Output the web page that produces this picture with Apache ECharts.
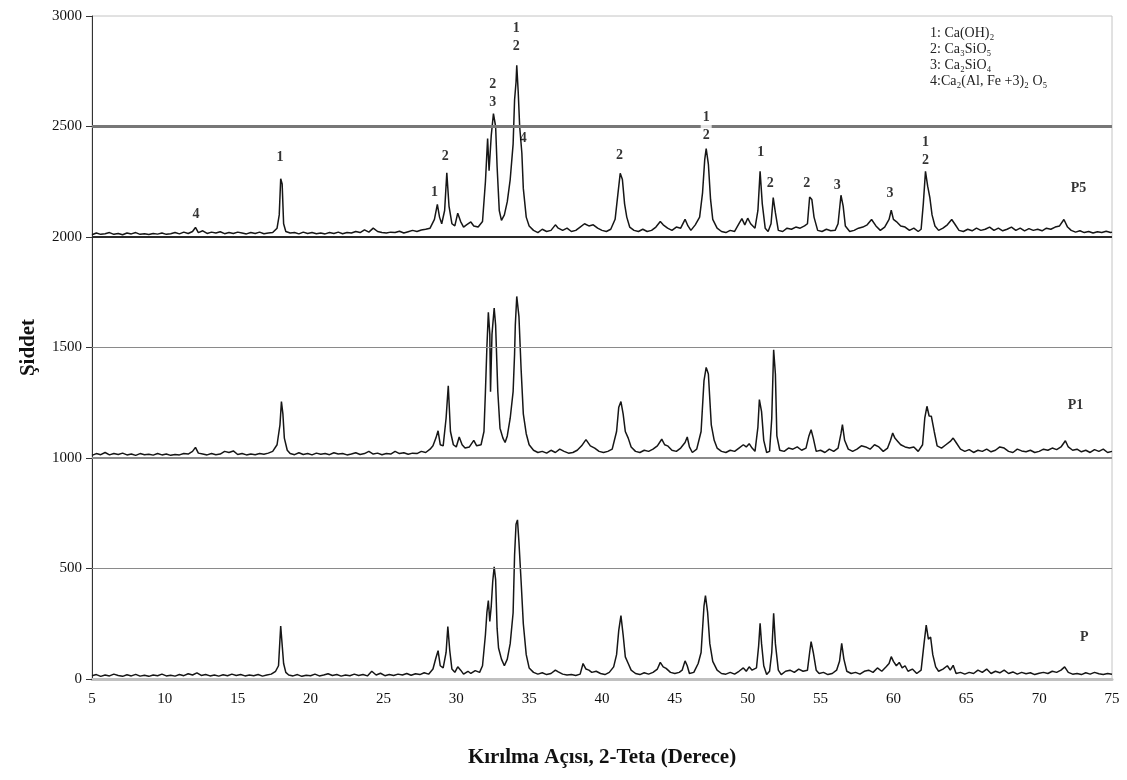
<!DOCTYPE html>
<html>
<head>
<meta charset="utf-8">
<script src="https://cdn.jsdelivr.net/npm/echarts@6/dist/echarts.min.js"></script>
<style>
  html, body { margin: 0; padding: 0; background: #fff; }
  #chart { width: 1127px; height: 780px; }
</style>
</head>
<body>
<div id="chart"></div>
<script>
// XRD patterns: [2-theta (deg), intensity above the pattern's own baseline]
const patternP = [
  [5.0,15],[5.3,20],[5.6,12],[5.9,18],[6.2,14],[6.5,22],[6.8,16],[7.1,12],[7.4,19],[7.7,14],
  [8.0,21],[8.3,13],[8.6,17],[8.9,12],[9.2,18],[9.5,15],[9.8,22],[10.1,14],[10.4,17],[10.7,13],
  [11.0,20],[11.3,15],[11.6,24],[11.9,18],[12.2,28],[12.5,16],[12.8,20],[13.1,14],[13.4,18],[13.7,13],
  [14.0,19],[14.3,15],[14.6,22],[14.9,16],[15.2,20],[15.5,14],[15.8,18],[16.1,15],[16.4,20],[16.7,13],
  [17.0,18],[17.3,22],[17.6,35],[17.8,60],[17.95,240],[18.05,235],[18.15,70],[18.3,30],[18.5,18],
  [18.8,14],[19.1,20],[19.4,12],[19.7,17],[20.0,15],[20.3,22],[20.6,14],[20.9,18],[21.2,24],[21.5,16],
  [21.8,20],[22.1,13],[22.4,18],[22.7,15],[23.0,22],[23.3,16],[23.6,20],[23.9,14],[24.2,35],[24.5,18],
  [24.8,26],[25.1,15],[25.4,20],[25.7,16],[26.0,22],[26.3,18],[26.6,25],[26.9,17],[27.2,24],[27.5,20],
  [27.8,28],[28.1,22],[28.4,45],[28.6,95],[28.75,128],[28.9,60],[29.1,50],[29.3,120],[29.42,237],[29.55,130],
  [29.7,45],[29.9,30],[30.1,55],[30.3,40],[30.5,22],[30.8,35],[31.0,25],[31.3,38],[31.6,30],[31.8,60],
  [32.0,200],[32.1,300],[32.2,355],[32.3,260],[32.4,330],[32.5,440],[32.6,508],[32.7,450],[32.8,230],[32.9,140],
  [33.1,90],[33.3,60],[33.5,90],[33.7,160],[33.9,300],[34.0,560],[34.1,700],[34.2,720],[34.3,620],[34.45,440],
  [34.6,250],[34.8,110],[35.0,50],[35.3,30],[35.6,22],[35.9,28],[36.2,20],[36.5,25],[36.8,40],[37.0,32],
  [37.3,22],[37.6,18],[37.9,20],[38.2,16],[38.5,22],[38.7,70],[38.9,45],[39.1,40],[39.3,30],[39.6,35],
  [39.9,25],[40.2,20],[40.5,30],[40.8,55],[41.0,110],[41.15,220],[41.3,287],[41.45,200],[41.6,100],[41.8,70],
  [42.0,40],[42.3,25],[42.6,20],[42.9,28],[43.2,22],[43.5,30],[43.8,45],[44.0,75],[44.2,55],[44.4,48],
  [44.7,30],[45.0,25],[45.3,30],[45.5,40],[45.7,82],[45.85,60],[46.0,25],[46.3,30],[46.6,70],[46.8,120],
  [47.0,330],[47.1,377],[47.25,300],[47.4,160],[47.6,80],[47.9,40],[48.2,25],[48.5,22],[48.8,30],[49.1,22],
  [49.4,35],[49.7,50],[49.9,35],[50.1,55],[50.3,40],[50.6,50],[50.75,150],[50.85,252],[50.95,160],[51.1,60],
  [51.3,20],[51.5,35],[51.65,120],[51.78,297],[51.9,160],[52.1,40],[52.3,20],[52.6,35],[52.9,40],[53.2,30],
  [53.5,45],[53.8,35],[54.1,40],[54.25,120],[54.35,169],[54.5,120],[54.7,40],[54.9,25],[55.2,30],[55.5,20],
  [55.8,25],[56.1,40],[56.3,80],[56.45,161],[56.6,90],[56.8,35],[57.1,25],[57.4,30],[57.7,22],[58.0,35],
  [58.3,40],[58.6,30],[58.9,50],[59.2,35],[59.5,55],[59.7,70],[59.85,101],[60.0,80],[60.2,60],[60.4,75],
  [60.6,50],[60.8,60],[61.0,35],[61.3,45],[61.6,25],[61.9,40],[62.1,160],[62.25,244],[62.4,180],[62.55,190],
  [62.7,110],[62.9,55],[63.1,35],[63.4,45],[63.7,60],[63.9,40],[64.1,62],[64.3,25],[64.6,30],[64.9,22],
  [65.2,30],[65.5,25],[65.8,40],[66.1,30],[66.4,45],[66.7,25],[67.0,35],[67.3,28],[67.6,40],[67.9,25],
  [68.2,32],[68.5,22],[68.8,30],[69.1,24],[69.4,28],[69.7,20],[70.0,26],[70.3,30],[70.6,25],[70.9,35],
  [71.2,30],[71.5,40],[71.75,55],[72.0,30],[72.3,22],[72.6,25],[72.9,20],[73.2,28],[73.5,22],[73.8,30],
  [74.1,24],[74.4,20],[74.7,25],[75.0,22]
];

const patternP1 = [
  [5.0,12],[5.3,20],[5.6,15],[5.9,25],[6.2,14],[6.5,20],[6.8,16],[7.1,22],[7.4,14],[7.7,18],
  [8.0,12],[8.3,20],[8.6,15],[8.9,17],[9.2,13],[9.5,20],[9.8,14],[10.1,18],[10.4,12],[10.7,16],
  [11.0,14],[11.3,20],[11.6,18],[11.9,30],[12.1,48],[12.3,22],[12.6,18],[12.9,14],[13.2,20],[13.5,15],
  [13.8,18],[14.1,30],[14.4,25],[14.7,32],[15.0,16],[15.3,20],[15.6,14],[15.9,18],[16.2,15],[16.5,20],
  [16.8,17],[17.1,22],[17.4,30],[17.7,60],[17.9,150],[18.0,255],[18.1,200],[18.2,90],[18.4,35],[18.6,20],
  [18.9,15],[19.2,24],[19.5,16],[19.8,20],[20.1,14],[20.4,22],[20.7,17],[21.0,20],[21.3,15],[21.6,24],
  [21.9,18],[22.2,20],[22.5,14],[22.8,18],[23.1,24],[23.4,16],[23.7,20],[24.0,30],[24.3,18],[24.6,22],
  [24.9,15],[25.2,20],[25.5,18],[25.8,30],[26.1,20],[26.4,24],[26.7,17],[27.0,22],[27.3,20],[27.6,30],
  [27.9,25],[28.2,40],[28.4,55],[28.6,90],[28.75,123],[28.9,60],[29.1,55],[29.3,180],[29.45,327],[29.6,120],
  [29.8,60],[30.0,50],[30.2,95],[30.4,60],[30.6,45],[30.9,50],[31.2,80],[31.4,55],[31.7,60],[31.9,120],
  [32.0,300],[32.1,500],[32.2,659],[32.3,560],[32.35,300],[32.45,560],[32.6,679],[32.7,600],[32.75,595],[32.85,300],
  [33.0,135],[33.2,90],[33.35,70],[33.5,100],[33.7,180],[33.9,300],[34.0,470],[34.05,600],[34.15,731],[34.3,640],
  [34.45,400],[34.6,200],[34.8,110],[35.0,60],[35.3,35],[35.6,25],[35.9,30],[36.2,22],[36.5,35],[36.8,25],
  [37.1,40],[37.4,30],[37.7,22],[38.0,25],[38.3,35],[38.6,55],[38.9,83],[39.2,55],[39.5,45],[39.8,30],
  [40.1,25],[40.4,30],[40.7,40],[41.0,120],[41.15,230],[41.3,255],[41.45,200],[41.6,120],[41.8,90],[42.0,50],
  [42.3,30],[42.6,25],[42.9,35],[43.2,30],[43.5,40],[43.8,55],[44.1,85],[44.3,60],[44.5,55],[44.8,35],
  [45.1,30],[45.4,45],[45.7,70],[45.85,95],[46.0,50],[46.2,25],[46.5,40],[46.8,120],[47.0,350],[47.15,410],
  [47.3,380],[47.5,150],[47.7,80],[47.9,45],[48.2,30],[48.5,25],[48.8,35],[49.1,30],[49.4,45],[49.7,60],
  [49.9,50],[50.1,65],[50.3,45],[50.5,30],[50.7,140],[50.8,264],[50.95,210],[51.1,80],[51.3,25],[51.5,30],
  [51.65,180],[51.78,490],[51.9,380],[52.0,100],[52.2,35],[52.5,30],[52.8,45],[53.1,40],[53.4,50],[53.7,35],
  [54.0,45],[54.2,100],[54.35,128],[54.5,90],[54.7,30],[55.0,35],[55.3,25],[55.6,40],[55.9,30],[56.2,45],
  [56.4,110],[56.5,151],[56.65,80],[56.9,40],[57.2,30],[57.5,40],[57.8,55],[58.1,50],[58.4,40],[58.7,60],
  [59.0,50],[59.3,30],[59.6,45],[59.8,80],[59.95,113],[60.1,90],[60.3,75],[60.5,60],[60.8,50],[61.1,45],
  [61.4,50],[61.7,30],[62.0,60],[62.15,180],[62.3,234],[62.45,190],[62.6,189],[62.8,120],[63.0,55],[63.3,45],
  [63.6,60],[63.9,75],[64.1,90],[64.3,70],[64.6,40],[64.9,30],[65.2,38],[65.5,25],[65.8,35],[66.1,30],
  [66.4,40],[66.7,28],[67.0,35],[67.3,50],[67.6,45],[67.9,30],[68.2,25],[68.5,40],[68.8,32],[69.1,28],
  [69.4,35],[69.7,25],[70.0,30],[70.3,40],[70.6,35],[70.9,45],[71.2,38],[71.5,50],[71.8,78],[72.0,50],
  [72.3,35],[72.6,40],[72.9,28],[73.2,35],[73.5,25],[73.8,38],[74.1,30],[74.4,40],[74.7,25],[75.0,30]
];

const patternP5 = [
  [5.0,10],[5.3,18],[5.6,12],[5.9,15],[6.2,20],[6.5,12],[6.8,16],[7.1,10],[7.4,18],[7.7,14],
  [8.0,20],[8.3,12],[8.6,15],[8.9,11],[9.2,16],[9.5,13],[9.8,18],[10.1,12],[10.4,15],[10.7,20],
  [11.0,14],[11.3,22],[11.6,16],[11.9,25],[12.1,43],[12.3,20],[12.6,28],[12.9,16],[13.2,22],[13.5,18],
  [13.8,24],[14.1,15],[14.4,20],[14.7,16],[15.0,22],[15.3,18],[15.6,14],[15.9,20],[16.2,16],[16.5,22],
  [16.8,15],[17.1,18],[17.4,20],[17.7,40],[17.85,100],[17.95,264],[18.05,240],[18.15,60],[18.3,25],[18.6,18],
  [18.9,20],[19.2,14],[19.5,22],[19.8,16],[20.1,20],[20.4,15],[20.7,18],[21.0,14],[21.3,20],[21.6,16],
  [21.9,22],[22.2,15],[22.5,20],[22.8,18],[23.1,25],[23.4,20],[23.7,32],[24.0,22],[24.3,40],[24.6,25],
  [24.9,20],[25.2,18],[25.5,22],[25.8,20],[26.1,26],[26.4,18],[26.7,24],[27.0,30],[27.3,25],[27.6,32],
  [27.9,35],[28.2,40],[28.5,80],[28.7,148],[28.85,90],[29.0,60],[29.2,120],[29.35,290],[29.5,140],[29.7,60],
  [29.9,50],[30.1,108],[30.3,70],[30.5,45],[30.7,55],[31.0,68],[31.2,50],[31.5,45],[31.8,70],[32.0,250],
  [32.15,445],[32.25,300],[32.4,460],[32.55,558],[32.7,500],[32.8,320],[32.95,120],[33.1,75],[33.3,100],[33.5,160],
  [33.7,260],[33.9,420],[34.0,620],[34.1,700],[34.15,777],[34.25,656],[34.35,500],[34.5,380],[34.6,220],[34.8,90],
  [35.0,50],[35.3,30],[35.6,20],[35.9,35],[36.2,25],[36.5,30],[36.8,55],[37.0,40],[37.3,30],[37.6,40],
  [37.9,25],[38.2,30],[38.5,45],[38.8,60],[39.1,50],[39.4,55],[39.7,40],[40.0,30],[40.3,25],[40.6,35],
  [40.9,80],[41.1,200],[41.25,288],[41.4,260],[41.55,150],[41.7,90],[41.9,45],[42.2,30],[42.5,25],[42.8,35],
  [43.1,25],[43.4,30],[43.7,45],[44.0,70],[44.2,55],[44.5,40],[44.8,30],[45.1,45],[45.4,40],[45.7,80],
  [45.9,50],[46.1,30],[46.4,55],[46.7,90],[46.9,200],[47.05,350],[47.15,400],[47.3,330],[47.45,170],[47.6,80],
  [47.9,40],[48.2,25],[48.5,20],[48.8,30],[49.1,25],[49.4,60],[49.6,83],[49.8,55],[50.0,85],[50.2,60],
  [50.5,40],[50.7,120],[50.85,297],[51.0,150],[51.2,40],[51.4,25],[51.6,60],[51.75,178],[51.9,110],[52.1,30],
  [52.4,25],[52.7,40],[53.0,35],[53.3,45],[53.6,40],[53.9,50],[54.1,60],[54.25,181],[54.4,170],[54.55,90],
  [54.8,30],[55.1,25],[55.4,35],[55.7,28],[56.0,30],[56.2,60],[56.4,189],[56.55,140],[56.7,50],[57.0,25],
  [57.3,30],[57.6,40],[57.9,45],[58.2,55],[58.5,79],[58.8,50],[59.1,30],[59.4,45],[59.7,80],[59.85,121],
  [60.0,80],[60.2,70],[60.5,50],[60.8,45],[61.1,30],[61.4,40],[61.7,25],[61.9,35],[62.05,150],[62.2,297],
  [62.35,230],[62.5,178],[62.65,100],[62.85,50],[63.1,30],[63.4,40],[63.7,55],[64.0,79],[64.2,60],[64.5,30],
  [64.8,25],[65.1,35],[65.4,28],[65.7,40],[66.0,30],[66.3,35],[66.6,45],[66.9,30],[67.2,40],[67.5,28],
  [67.8,35],[68.1,45],[68.4,30],[68.7,40],[69.0,28],[69.3,38],[69.6,30],[69.9,35],[70.2,28],[70.5,40],
  [70.8,35],[71.1,45],[71.4,50],[71.7,79],[71.95,45],[72.2,30],[72.5,22],[72.8,28],[73.1,20],[73.4,25],
  [73.7,18],[74.0,24],[74.3,20],[74.6,26],[74.9,20],[75.0,22]
];

// Each pattern is stacked on its own baseline
const sampleNames = ['P', 'P1', 'P5'];
const sampleOffsets = [0, 1000, 2000];
const samplePatterns = [patternP, patternP1, patternP5];

// Sample tags placed beside each trace: [2-theta, intensity, text]
const sampleTags = [[73.1, 190, 'P'], [72.5, 1240, 'P1'], [72.7, 2222, 'P5']];

// Phase numbers above the P5 peaks: [2-theta, intensity, text]
const phaseMarks = [
  [12.14, 2104, '4'], [17.9, 2358, '1'], [28.5, 2204, '1'], [29.25, 2367, '2'],
  [32.5, 2652, '2\n3'], [34.12, 2903, '1\n2'], [34.6, 2448, '4'], [41.2, 2371, '2'],
  [47.15, 2500, '1\n2'], [50.9, 2385, '1'], [51.55, 2244, '2'], [54.05, 2244, '2'],
  [56.15, 2235, '3'], [59.77, 2199, '3'], [62.2, 2389, '1\n2']
];

// Phase key
const phaseKey = ['1: Ca(OH)₂', '2: Ca₃SiO₅', '3: Ca₂SiO₄', '4:Ca₂(Al, Fe +3)₂ O₅'];

// Axis settings
const xTicks = { min: 5, max: 75, step: 5 };
const yTicks = { min: 0, max: 3000, step: 500 };

// Horizontal reference lines
const refLines = [
  { y: 500, color: '#8a8a8a', width: 1 },
  { y: 1000, color: '#8a8a8a', width: 2 },
  { y: 1500, color: '#8a8a8a', width: 1 },
  { y: 2000, color: '#2a2a2a', width: 2 },
  { y: 2500, color: '#777777', width: 3 }
];

const SERIF = '"Liberation Serif", "DejaVu Serif", serif';

const chart = echarts.init(document.getElementById('chart'), null, { renderer: 'canvas' });

const series = [];

// reference lines
series.push({
  type: 'line',
  data: [],
  silent: true,
  z: 1,
  markLine: {
    silent: true,
    symbol: 'none',
    label: { show: false },
    animation: false,
    data: refLines.map(r => ({ yAxis: r.y, lineStyle: { color: r.color, width: r.width, type: 'solid' } }))
  }
});

samplePatterns.forEach((pat, i) => {
  series.push({
    name: sampleNames[i],
    type: 'line',
    data: pat.map(p => [p[0], p[1] + sampleOffsets[i]]),
    showSymbol: false,
    symbol: 'none',
    z: 3,
    lineStyle: { color: '#161616', width: 1.5 },
    silent: true
  });
});

const textLabel = {
  show: true,
  position: 'inside',
  formatter: p => p.value[2],
  color: '#000',
  textBorderWidth: 0,
  fontFamily: SERIF,
  fontSize: 14,
  fontWeight: 'bold',
  lineHeight: 18,
  align: 'center',
  verticalAlign: 'middle'
};

// phase numbers
series.push({
  type: 'scatter',
  z: 5,
  symbolSize: 1,
  itemStyle: { color: 'rgba(0,0,0,0)' },
  silent: true,
  data: phaseMarks.map(m => {
    const item = { value: [m[0], m[1], m[2]] };
    if (m[0] > 47 && m[0] < 47.3) {
      item.label = { backgroundColor: '#fff', padding: [0, 2] };
    }
    return item;
  }),
  label: textLabel
});

// sample tags
series.push({
  type: 'scatter',
  z: 5,
  symbolSize: 1,
  itemStyle: { color: 'rgba(0,0,0,0)' },
  silent: true,
  data: sampleTags.map(t => ({ value: [t[0], t[1], t[2]] })),
  label: textLabel
});

const option = {
  animation: false,
  backgroundColor: '#fff',
  grid: {
    left: 92, right: 15, top: 16, bottom: 101,
    show: true, borderColor: '#c4c4c4', borderWidth: 1, backgroundColor: 'transparent'
  },
  xAxis: {
    type: 'value',
    min: xTicks.min, max: xTicks.max, interval: xTicks.step,
    name: 'Kırılma Açısı, 2-Teta (Derece)',
    nameLocation: 'middle',
    nameGap: 68,
    nameTextStyle: { fontFamily: SERIF, fontSize: 21, fontWeight: 'bold', color: '#111' },
    axisLine: { show: true, lineStyle: { color: '#c0c0c0', width: 3 } },
    axisTick: { show: false },
    splitLine: { show: false },
    axisLabel: { margin: 13, fontFamily: SERIF, fontSize: 15, color: '#111', formatter: v => String(v) }
  },
  yAxis: {
    type: 'value',
    min: yTicks.min, max: yTicks.max, interval: yTicks.step,
    name: 'Şiddet',
    nameLocation: 'middle',
    nameGap: 53,
    nameTextStyle: { fontFamily: SERIF, fontSize: 21, fontWeight: 'bold', color: '#111' },
    axisLine: { show: true, lineStyle: { color: '#333', width: 1 } },
    axisTick: { show: true, length: 6, lineStyle: { color: '#333' } },
    splitLine: { show: false },
    axisLabel: { margin: 10, fontFamily: SERIF, fontSize: 15, color: '#111', formatter: v => String(v) }
  },
  graphic: phaseKey.map((t, i) => ({
    type: 'text',
    left: 930,
    top: 26 + i * 16,
    z: 10,
    style: { text: t, font: '14px ' + SERIF, fill: '#222' }
  })),
  series: series
};

chart.setOption(option);
</script>
</body>
</html>
